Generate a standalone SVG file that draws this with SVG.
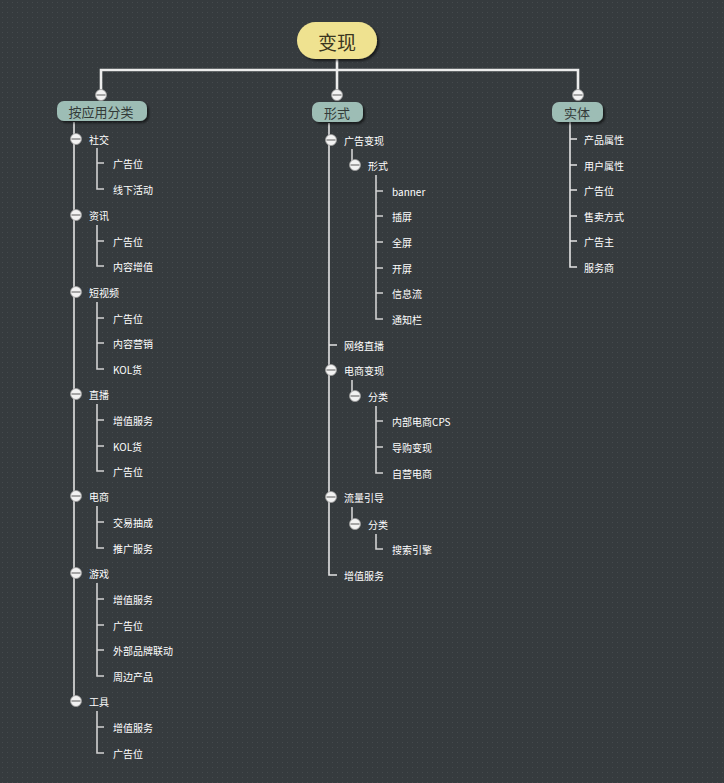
<svg xmlns="http://www.w3.org/2000/svg" width="724" height="783" viewBox="0 0 724 783">
<defs>
<pattern id="dots" width="5" height="5" patternUnits="userSpaceOnUse">
<rect width="5" height="5" fill="#363b3e"/>
<rect x="2" y="2" width="1" height="1" fill="#454a4d"/>
</pattern>
<filter id="sh" x="-20%" y="-30%" width="140%" height="170%">
<feDropShadow dx="2" dy="2" stdDeviation="1" flood-color="#000" flood-opacity="0.55"/>
</filter>
<g id="btn">
<circle r="5.5" fill="#f2f2f2" stroke="#9a9a9a" stroke-width="0.8"/>
<line x1="-4.5" y1="0" x2="4.5" y2="0" stroke="#7a7a7a" stroke-width="1.3"/>
</g>
</defs>
<style>
.main{stroke:#ececec;stroke-width:2.6;fill:none}
.ln{stroke:#e4e4e4;stroke-width:1.6;fill:none}
.sub{stroke:#d2d2d2;stroke-width:1.6;fill:none}
.t{font-family:"Noto Sans CJK SC","Liberation Sans",sans-serif;font-size:10px;fill:#ffffff;dominant-baseline:central}
.bt{font-family:"Noto Sans CJK SC","Liberation Sans",sans-serif;font-size:13px;fill:#333a38;dominant-baseline:central;text-anchor:middle}
.rt{font-family:"Noto Sans CJK SC","Liberation Sans",sans-serif;font-size:19px;fill:#3a3520;dominant-baseline:central;text-anchor:middle}
</style>
<rect width="724" height="783" fill="url(#dots)"/>

<g id="connectors">
<path class="main" d="M337 59 V70 M101 96 V70 H578 V96 M337 70 V96"/>
<path class="ln" d="M74 122 V701"/>
<path class="sub" d="M97 148 V189 H104 M97 163 H104"/>
<path class="sub" d="M97 225 V266 H104 M97 241 H104"/>
<path class="sub" d="M97 302 V369 H104 M97 318 H104 M97 343 H104"/>
<path class="sub" d="M97 404 V471 H104 M97 420 H104 M97 446 H104"/>
<path class="sub" d="M97 506 V548 H104 M97 522 H104"/>
<path class="sub" d="M97 583 V676 H104 M97 599 H104 M97 625 H104 M97 650 H104"/>
<path class="sub" d="M97 711 V753 H104 M97 727 H104"/>
<path class="ln" d="M329 123 V575 H337 M329 345 H337"/>
<path class="sub" d="M352 149 V165 H355"/>
<path class="sub" d="M376 175 V319 H383 M376 191 H383 M376 216 H383 M376 242 H383 M376 268 H383 M376 293 H383"/>
<path class="sub" d="M352 380 V396 H355"/>
<path class="sub" d="M376 406 V473 H383 M376 421 H383 M376 447 H383"/>
<path class="sub" d="M352 507 V524 H355"/>
<path class="sub" d="M376 534 V549 H383"/>
<path class="ln" d="M570 122 V267 H577 M570 139 H577 M570 165 H577 M570 190 H577 M570 216 H577 M570 241 H577"/>
</g>

<g id="root">
<rect x="297" y="22" width="80" height="37" rx="18.5" fill="#efe290" filter="url(#sh)"/>
<text class="rt" x="337" y="41">变现</text>
</g>

<g id="branch-app">
<rect x="57" y="101" width="90" height="20" rx="7" fill="#9dbdb5" filter="url(#sh)"/>
<text class="bt" x="101" y="111">按应用分类</text>
<use href="#btn" x="101" y="95"/>
</g>
<g id="branch-form">
<rect x="312" y="102" width="51" height="20" rx="7" fill="#9dbdb5" filter="url(#sh)"/>
<text class="bt" x="337" y="112">形式</text>
<use href="#btn" x="337" y="95"/>
</g>
<g id="branch-entity">
<rect x="552" y="102" width="51" height="20" rx="7" fill="#9dbdb5" filter="url(#sh)"/>
<text class="bt" x="577" y="112">实体</text>
<use href="#btn" x="578" y="95"/>
</g>

<g id="n-shejiao"><use href="#btn" x="76" y="139"/><text class="t" x="89" y="139">社交</text></g>
<g id="n-shejiao-1"><text class="t" x="113" y="163">广告位</text></g>
<g id="n-shejiao-2"><text class="t" x="113" y="189">线下活动</text></g>
<g id="n-zixun"><use href="#btn" x="76" y="215"/><text class="t" x="89" y="215">资讯</text></g>
<g id="n-zixun-1"><text class="t" x="113" y="241">广告位</text></g>
<g id="n-zixun-2"><text class="t" x="113" y="266">内容增值</text></g>
<g id="n-dsp"><use href="#btn" x="76" y="292"/><text class="t" x="89" y="292">短视频</text></g>
<g id="n-dsp-1"><text class="t" x="113" y="318">广告位</text></g>
<g id="n-dsp-2"><text class="t" x="113" y="343">内容营销</text></g>
<g id="n-dsp-3"><text class="t" x="113" y="369">KOL货</text></g>
<g id="n-zhibo"><use href="#btn" x="76" y="394"/><text class="t" x="89" y="394">直播</text></g>
<g id="n-zhibo-1"><text class="t" x="113" y="420">增值服务</text></g>
<g id="n-zhibo-2"><text class="t" x="113" y="446">KOL货</text></g>
<g id="n-zhibo-3"><text class="t" x="113" y="471">广告位</text></g>
<g id="n-ds"><use href="#btn" x="76" y="496"/><text class="t" x="89" y="496">电商</text></g>
<g id="n-ds-1"><text class="t" x="113" y="522">交易抽成</text></g>
<g id="n-ds-2"><text class="t" x="113" y="548">推广服务</text></g>
<g id="n-yx"><use href="#btn" x="76" y="573"/><text class="t" x="89" y="573">游戏</text></g>
<g id="n-yx-1"><text class="t" x="113" y="599">增值服务</text></g>
<g id="n-yx-2"><text class="t" x="113" y="625">广告位</text></g>
<g id="n-yx-3"><text class="t" x="113" y="650">外部品牌联动</text></g>
<g id="n-yx-4"><text class="t" x="113" y="676">周边产品</text></g>
<g id="n-gj"><use href="#btn" x="76" y="701"/><text class="t" x="89" y="701">工具</text></g>
<g id="n-gj-1"><text class="t" x="113" y="727">增值服务</text></g>
<g id="n-gj-2"><text class="t" x="113" y="753">广告位</text></g>

<g id="m-ggbx"><use href="#btn" x="331" y="140"/><text class="t" x="344" y="140">广告变现</text></g>
<g id="m-xs"><use href="#btn" x="355" y="165"/><text class="t" x="368" y="165">形式</text></g>
<g id="m-xs-1"><text class="t" x="392" y="191">banner</text></g>
<g id="m-xs-2"><text class="t" x="392" y="216">插屏</text></g>
<g id="m-xs-3"><text class="t" x="392" y="242">全屏</text></g>
<g id="m-xs-4"><text class="t" x="392" y="268">开屏</text></g>
<g id="m-xs-5"><text class="t" x="392" y="293">信息流</text></g>
<g id="m-xs-6"><text class="t" x="392" y="319">通知栏</text></g>
<g id="m-wlzb"><text class="t" x="344" y="345">网络直播</text></g>
<g id="m-dsbx"><use href="#btn" x="331" y="370"/><text class="t" x="344" y="370">电商变现</text></g>
<g id="m-fl1"><use href="#btn" x="355" y="396"/><text class="t" x="368" y="396">分类</text></g>
<g id="m-fl1-1"><text class="t" x="392" y="421">内部电商CPS</text></g>
<g id="m-fl1-2"><text class="t" x="392" y="447">导购变现</text></g>
<g id="m-fl1-3"><text class="t" x="392" y="473">自营电商</text></g>
<g id="m-llyd"><use href="#btn" x="331" y="497"/><text class="t" x="344" y="497">流量引导</text></g>
<g id="m-fl2"><use href="#btn" x="355" y="524"/><text class="t" x="368" y="524">分类</text></g>
<g id="m-fl2-1"><text class="t" x="392" y="549">搜索引擎</text></g>
<g id="m-zzfw"><text class="t" x="344" y="575">增值服务</text></g>

<g id="r-1"><text class="t" x="584" y="139">产品属性</text></g>
<g id="r-2"><text class="t" x="584" y="165">用户属性</text></g>
<g id="r-3"><text class="t" x="584" y="190">广告位</text></g>
<g id="r-4"><text class="t" x="584" y="216">售卖方式</text></g>
<g id="r-5"><text class="t" x="584" y="241">广告主</text></g>
<g id="r-6"><text class="t" x="584" y="267">服务商</text></g>
</svg>
